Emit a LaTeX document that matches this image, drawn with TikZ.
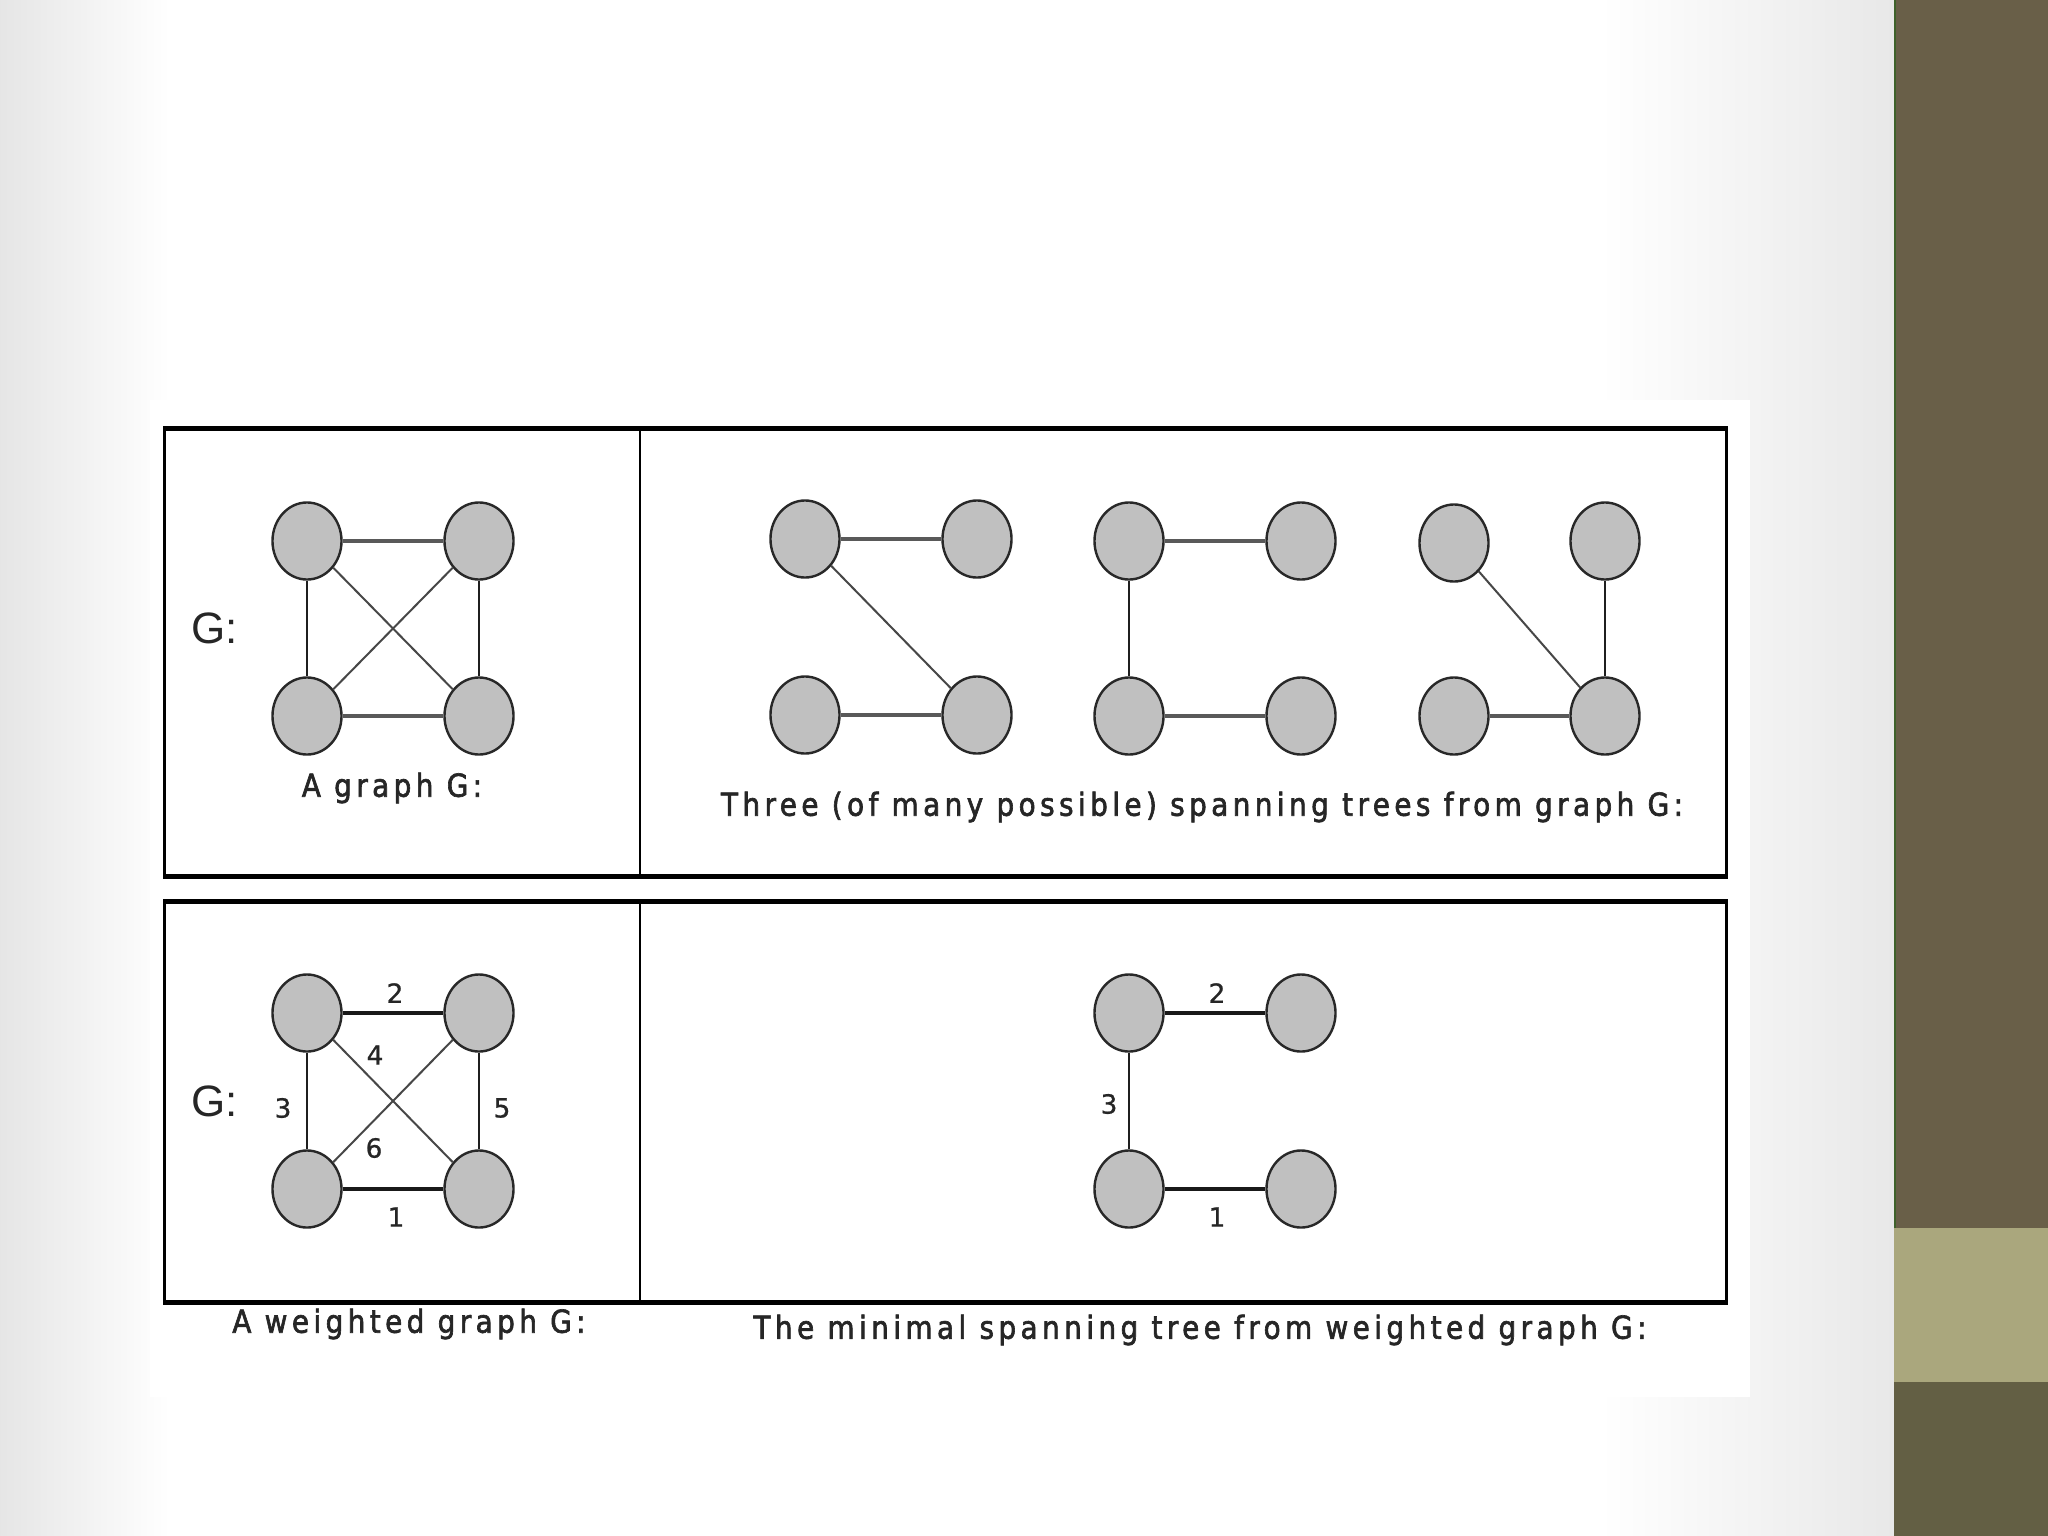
\documentclass[tikz,border=0pt]{standalone}
\usepackage{fontspec}
\setmainfont{DejaVu Sans}
\newfontfamily\capfont[LetterSpace=14, FakeStretch=0.88, FakeBold=2]{DejaVu Sans}
\newfontfamily\numfont[FakeBold=0.8]{DejaVu Sans}
\newfontfamily\gfont{Liberation Sans}
\usetikzlibrary{shapes.geometric}
\definecolor{sidebar}{RGB}{105,95,72}
\definecolor{sidelight}{RGB}{170,167,125}
\definecolor{sidelow}{RGB}{99,95,68}
\definecolor{nodefill}{RGB}{192,192,192}
\definecolor{nodeline}{RGB}{40,40,40}
\tikzset{
  vtx/.style={ellipse, draw=nodeline, fill=nodefill, line width=0.024cm, minimum width=0.69cm, minimum height=0.77cm, inner sep=0pt},
  hedge/.style={line width=0.04cm, draw=black!65},
  hedgeb/.style={line width=0.032cm, draw=black!90},
  vedge/.style={line width=0.025cm, draw=black!88},
  dedge/.style={line width=0.02cm, draw=black!72},
  wlbl/.style={font=\numfont\fontsize{7.5pt}{9pt}\selectfont, text=black!85, inner sep=0pt},
  glbl/.style={font=\gfont\fontsize{12.5pt}{14pt}\selectfont, text=black!85, inner sep=0pt},
  caplbl/.style={font=\capfont\fontsize{9pt}{11pt}\selectfont, text=black!85, inner sep=0pt},
  tblthick/.style={line width=0.05cm, draw=black},
  tblthin/.style={line width=0.03cm, draw=black}
}
\begin{document}
\begin{tikzpicture}[x=0.01cm, y=-0.01cm]
\useasboundingbox (0,0) rectangle (2048,1536);
% slide background with soft side shading
\fill[white] (0,0) rectangle (1894,1536);
\shade[left color=black!10, right color=white] (0,0) rectangle (170,1536);
\shade[left color=white, right color=black!9] (1600,0) rectangle (1894,1536);
\fill[white] (150,400) rectangle (1750,1397);
% sidebar
\fill[sidebar] (1894,0) rectangle (2048,1228);
\fill[sidelight] (1894,1228) rectangle (2048,1382);
\fill[sidelow] (1894,1382) rectangle (2048,1536);
\draw[line width=0.02cm, draw=black!60!green!40!sidebar] (1895,0) -- (1895,1228);

% ---------- tables ----------
\draw[tblthin] (164.6,428) -- (164.6,876);
\draw[tblthin] (1726.7,428) -- (1726.7,876);
\draw[line width=0.025cm] (640,428) -- (640,876);
\draw[tblthick] (163,428) -- (1728,428);
\draw[tblthick] (163,876) -- (1728,876);

\draw[tblthin] (164.6,901) -- (164.6,1302);
\draw[tblthin] (1726.7,901) -- (1726.7,1302);
\draw[line width=0.025cm] (640,901) -- (640,1302);
\draw[tblthick] (163,901) -- (1728,901);
\draw[tblthick] (163,1302) -- (1728,1302);

% ---------- graph G ----------
\node[glbl] (gname) at (215,628) {G:};
\node[vtx] (ga) at (307,541) {};
\node[vtx] (gb) at (479,541) {};
\node[vtx] (gc) at (307,716) {};
\node[vtx] (gd) at (479,716) {};
\draw[hedge] (ga) -- (gb);
\draw[hedge] (gc) -- (gd);
\draw[vedge] (ga) -- (gc);
\draw[vedge] (gb) -- (gd);
\draw[dedge] (ga) -- (gd);
\draw[dedge] (gb) -- (gc);
\node[caplbl] (cap1) at (392,788) {A graph G:};

% ---------- spanning trees ----------
\node[vtx] (t1a) at (805,539) {};
\node[vtx] (t1b) at (977,539) {};
\node[vtx] (t1c) at (805,715) {};
\node[vtx] (t1d) at (977,715) {};
\draw[hedge] (t1a) -- (t1b);
\draw[hedge] (t1c) -- (t1d);
\draw[dedge] (t1a) -- (t1d);

\node[vtx] (t2a) at (1129,541) {};
\node[vtx] (t2b) at (1301,541) {};
\node[vtx] (t2c) at (1129,716) {};
\node[vtx] (t2d) at (1301,716) {};
\draw[hedge] (t2a) -- (t2b);
\draw[hedge] (t2c) -- (t2d);
\draw[vedge] (t2a) -- (t2c);

\node[vtx] (t3a) at (1454,543) {};
\node[vtx] (t3b) at (1605,541) {};
\node[vtx] (t3c) at (1454,716) {};
\node[vtx] (t3d) at (1605,716) {};
\draw[vedge] (t3b) -- (t3d);
\draw[dedge] (t3a) -- (t3d);
\draw[hedge] (t3c) -- (t3d);
\node[caplbl] (cap2) at (1202,807) {Three (of many possible) spanning trees from graph G:};

% ---------- weighted graph G ----------
\node[glbl] (wname) at (215,1101) {G:};
\node[vtx] (wa) at (307,1013) {};
\node[vtx] (wb) at (479,1013) {};
\node[vtx] (wc) at (307,1189) {};
\node[vtx] (wd) at (479,1189) {};
\draw[hedgeb] (wa) -- (wb);
\draw[hedgeb] (wc) -- (wd);
\draw[vedge] (wa) -- (wc);
\draw[vedge] (wb) -- (wd);
\draw[dedge] (wa) -- (wd);
\draw[dedge] (wb) -- (wc);
\node[wlbl] (w2) at (395,993) {2};
\node[wlbl] (w4) at (375,1055) {4};
\node[wlbl] (w3) at (283,1108) {3};
\node[wlbl] (w5) at (502,1108) {5};
\node[wlbl] (w6) at (374,1148) {6};
\node[wlbl] (w1) at (396,1217) {1};
\node[caplbl] (cap3) at (409,1324) {A weighted graph G:};

% ---------- minimal spanning tree ----------
\node[vtx] (ma) at (1129,1013) {};
\node[vtx] (mb) at (1301,1013) {};
\node[vtx] (mc) at (1129,1189) {};
\node[vtx] (md) at (1301,1189) {};
\draw[hedgeb] (ma) -- (mb);
\draw[hedgeb] (mc) -- (md);
\draw[vedge] (ma) -- (mc);
\node[wlbl] (m2) at (1217,993) {2};
\node[wlbl] (m3) at (1109,1104) {3};
\node[wlbl] (m1) at (1217,1217) {1};
\node[caplbl] (cap4) at (1200,1330) {The minimal spanning tree from weighted graph G:};
\end{tikzpicture}
\end{document}
